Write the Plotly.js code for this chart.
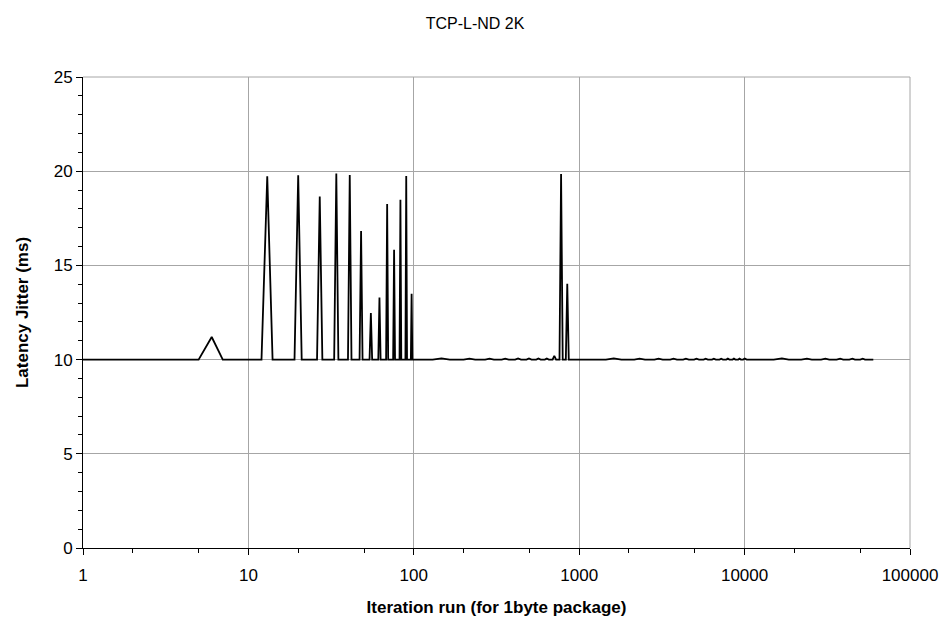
<!DOCTYPE html>
<html>
<head>
<meta charset="utf-8">
<script src="https://cdn.plot.ly/plotly-3.0.1.min.js"></script>
<style>html,body{margin:0;padding:0;background:#fff;}#chart{width:950px;height:621px;}</style>
</head>
<body>
<div id="chart"></div>
<script>
// Iteration runs (x) and latency jitter in ms (y)
const iterations = [
  1, 5, 6, 7,
  12, 13, 14, 19, 20, 21, 26, 27, 28, 33, 34, 35, 40, 41, 42,
  47, 48, 49, 54, 55, 56, 61, 62, 63, 68, 69, 70, 75, 76, 77,
  82, 83, 84, 89, 90, 91, 96, 97, 98,
  130, 147, 165, 200, 217, 235, 270, 287, 305, 340, 357, 375,
  410, 427, 445, 480, 497, 515, 550, 567, 585, 620, 637, 655,
  690, 707, 725, 760, 777, 795, 830, 847, 865,
  1450, 1617, 1800, 2150, 2317, 2500, 2850, 3017, 3200, 3550, 3717, 3900,
  4250, 4417, 4600, 4950, 5117, 5300, 5650, 5817, 6000, 6350, 6517, 6700,
  7050, 7217, 7400, 7750, 7917, 8100, 8450, 8617, 8800, 9150, 9317, 9500,
  9800, 10017, 10300,
  15000, 16807, 18500, 22000, 23807, 25500, 29000, 30807, 32500,
  36000, 37807, 39500, 43000, 44807, 46500, 50000, 51807, 53500,
  58000, 60000
];
const jitterMs = [
  10, 10, 11.2, 10,
  10, 19.73, 10, 10, 19.78, 10, 10, 18.66, 10, 10, 19.88, 10, 10, 19.8, 10,
  10, 16.83, 10, 10, 12.47, 10, 10, 13.3, 10, 10, 18.26, 10, 10, 15.83, 10,
  10, 18.48, 10, 10, 19.75, 10, 10, 13.5, 10,
  10, 10.06, 10, 10, 10.05, 10, 10, 10.05, 10, 10, 10.05, 10,
  10, 10.06, 10, 10, 10.06, 10, 10, 10.06, 10, 10, 10.06, 10,
  10, 10.2, 10, 10, 19.85, 10, 10, 14.03, 10,
  10, 10.06, 10, 10, 10.05, 10, 10, 10.05, 10, 10, 10.05, 10,
  10, 10.05, 10, 10, 10.05, 10, 10, 10.05, 10, 10, 10.05, 10,
  10, 10.05, 10, 10, 10.05, 10, 10, 10.05, 10, 10, 10.05, 10,
  10, 10.06, 10,
  10, 10.06, 10, 10, 10.05, 10, 10, 10.05, 10,
  10, 10.05, 10, 10, 10.05, 10, 10, 10.05, 10,
  10, 10
];
const xTickVals = [1, 10, 100, 1000, 10000, 100000];
const xTickText = ['1', '10', '100', '1000', '10000', '100000'];

const font = 'Liberation Sans, Arial, sans-serif';
const trace = {
  x: iterations, y: jitterMs, type: 'scatter', mode: 'lines',
  line: {color: '#000000', width: 1.8}, showlegend: false, hoverinfo: 'x+y'
};
const layout = {
  width: 950, height: 621,
  margin: {l: 83, r: 40, t: 77, b: 73},
  paper_bgcolor: '#ffffff', plot_bgcolor: '#ffffff',
  title: {text: 'TCP-L-ND 2K', x: 0.5, xanchor: 'center', y: 0.962, yanchor: 'middle',
          font: {family: font, size: 16, color: '#000000'}},
  xaxis: {
    type: 'log', range: [0, 5],
    tickvals: xTickVals, ticktext: xTickText,
    ticks: 'outside', ticklen: 6, tickcolor: '#000', tickwidth: 1,
    ticklabelstandoff: 6,
    showline: true, linecolor: '#000', linewidth: 1,
    showgrid: true, gridcolor: '#a6a6a6', gridwidth: 1,
    zeroline: false,
    minor: {ticks: 'outside', ticklen: 4, tickcolor: '#000', showgrid: false},
    tickfont: {family: font, size: 17, color: '#000'},
    title: {text: '<b>Iteration run (for 1byte package)</b>', standoff: 16,
            font: {family: font, size: 17, color: '#000'}}
  },
  yaxis: {
    range: [0, 25], tick0: 0, dtick: 5,
    ticks: 'outside', ticklen: 6, tickcolor: '#000000', tickwidth: 1,
    showline: true, linecolor: '#000', linewidth: 1,
    showgrid: true, gridcolor: '#a6a6a6', gridwidth: 1,
    zeroline: false,
    minor: {ticks: 'outside', dtick: 1, ticklen: 4, tickcolor: '#000000', tickwidth: 1, showgrid: false},
    tickfont: {family: font, size: 17, color: '#000'},
    title: {text: '<b>Latency Jitter (ms)</b>', standoff: 20,
            font: {family: font, size: 17, color: '#000'}}
  },
  shapes: [
    {type: 'line', xref: 'paper', yref: 'paper', x0: 0, x1: 1, y0: 1, y1: 1,
     line: {color: '#a6a6a6', width: 1}},
    {type: 'line', xref: 'paper', yref: 'paper', x0: 1, x1: 1, y0: 0, y1: 1,
     line: {color: '#a6a6a6', width: 1}}
  ]
};
Plotly.newPlot('chart', [trace], layout, {displayModeBar: false, staticPlot: true});
</script>
</body>
</html>
